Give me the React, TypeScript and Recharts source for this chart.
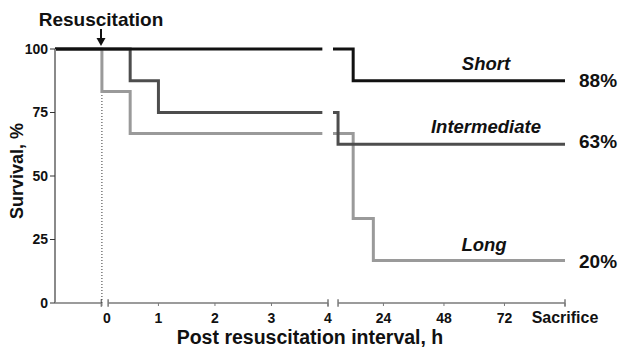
import React from 'react'
import { LineChart, Line, XAxis, YAxis, ReferenceLine } from 'recharts'

// hours after resuscitation / survival % -- early panel (-1..4 h)
const shortEarlyHours = [-0.83, 3.9]
const shortEarlySurvival = [100, 100]
const intermediateEarlyHours = [-0.83, 0.5, 1, 3.9]
const intermediateEarlySurvival = [100, 87.5, 75, 75]
const longEarlyHours = [-0.83, 0, 0.5, 3.9]
const longEarlySurvival = [100, 83.3, 66.7, 66.7]

// late panel (4 h .. sacrifice at 96 h)
const shortLateHours = [4, 12, 96]
const shortLateSurvival = [100, 87.5, 87.5]
const intermediateLateHours = [4, 6, 96]
const intermediateLateSurvival = [75, 62.5, 62.5]
const longLateHours = [4, 12, 20, 96]
const longLateSurvival = [66.7, 33.3, 16.7, 16.7]

const survivalTicks = [0, 25, 50, 75, 100]
const earlyTicks = [0, 1, 2, 3, 4]
const lateTicks = [24, 48, 72, 96]
const seriesNames = ['Short', 'Intermediate', 'Long']
const finalSurvival = ['88%', '63%', '20%']

const FONT = '"Liberation Sans", Arial, Helvetica, sans-serif'
const COLORS = ['#111111', '#4d4d4d', '#9a9a9a']
const AXIS = '#7a7a7a'

const toPoints = (hours: number[], surv: number[]) => hours.map((t, i) => ({ t, s: surv[i] }))

const early = [
  toPoints(shortEarlyHours, shortEarlySurvival),
  toPoints(intermediateEarlyHours, intermediateEarlySurvival),
  toPoints(longEarlyHours, longEarlySurvival),
]
const late = [
  toPoints(shortLateHours, shortLateSurvival),
  toPoints(intermediateLateHours, intermediateLateSurvival),
  toPoints(longLateHours, longLateSurvival),
]

function HourTick(props: any) {
  const { x, y, payload } = props
  const v = payload.value
  const isEnd = v === 96
  return (
    <text
      x={x + (v === 0 ? 5 : 0)}
      y={y + 15}
      textAnchor="middle"
      fontFamily={FONT}
      fontWeight="bold"
      fontSize={isEnd ? 16 : 14}
      fill="#111"
    >
      {isEnd ? 'Sacrifice' : v}
    </text>
  )
}

// draw lines back-to-front so Short sits on top
const order = [2, 1, 0]

export default function App() {
  return (
    <div style={{ position: 'absolute', left: 0, top: 0, width: 624, height: 350, background: '#fff', fontFamily: FONT }}>
      <div style={{ position: 'absolute', left: 0, top: 0 }}>
        <LineChart width={340} height={350} margin={{ top: 49, right: 12, bottom: 17, left: 0 }}>
          <XAxis
            type="number"
            dataKey="t"
            domain={[-0.83, 4]}
            ticks={earlyTicks}
            allowDataOverflow
            axisLine={false}
            tickLine={{ stroke: AXIS }}
            tickSize={3}
            height={30}
            tick={<HourTick />}
          />
          <YAxis
            type="number"
            domain={[0, 100]}
            ticks={survivalTicks}
            width={55}
            axisLine={{ stroke: '#8a8a8a', strokeWidth: 2 }}
            tickLine={{ stroke: '#333' }}
            tickSize={5}
            tick={{ fontSize: 14, fontWeight: 'bold', fill: '#111', fontFamily: FONT }}
          />
          <ReferenceLine segment={[{ x: -0.83, y: 0 }, { x: -0.01, y: 0 }]} stroke={AXIS} strokeWidth={1.5} ifOverflow="visible" />
          <ReferenceLine segment={[{ x: -0.01, y: -1.5 }, { x: -0.01, y: 1.5 }]} stroke={AXIS} strokeWidth={1.5} ifOverflow="visible" />
          <ReferenceLine segment={[{ x: 0.11, y: 0 }, { x: 4, y: 0 }]} stroke={AXIS} strokeWidth={1.5} ifOverflow="visible" />
          <ReferenceLine segment={[{ x: 0.11, y: -1.5 }, { x: 0.11, y: 1.5 }]} stroke={AXIS} strokeWidth={1.5} ifOverflow="visible" />
          <ReferenceLine segment={[{ x: 4, y: -1.5 }, { x: 4, y: 1.5 }]} stroke={AXIS} strokeWidth={1.5} ifOverflow="visible" />
          <ReferenceLine x={0} stroke="#333" strokeDasharray="1 2" />
          {order.map((i) => (
            <Line
              key={seriesNames[i]}
              data={early[i]}
              dataKey="s"
              type="stepAfter"
              stroke={COLORS[i]}
              strokeWidth={3}
              dot={false}
              isAnimationActive={false}
            />
          ))}
        </LineChart>
      </div>

      <div style={{ position: 'absolute', left: 322, top: 0 }}>
        <LineChart width={302} height={350} margin={{ top: 49, right: 59, bottom: 17, left: 11 }}>
          <XAxis
            type="number"
            dataKey="t"
            domain={[4, 96]}
            ticks={lateTicks}
            allowDataOverflow
            axisLine={false}
            tickLine={{ stroke: AXIS }}
            tickSize={3}
            height={30}
            tick={<HourTick />}
          />
          <YAxis type="number" domain={[0, 100]} hide />
          <ReferenceLine segment={[{ x: 6, y: 0 }, { x: 96, y: 0 }]} stroke={AXIS} strokeWidth={1.5} ifOverflow="visible" />
          <ReferenceLine segment={[{ x: 6, y: -1.5 }, { x: 6, y: 1.5 }]} stroke={AXIS} strokeWidth={1.5} ifOverflow="visible" />
          <ReferenceLine segment={[{ x: 96, y: -1.5 }, { x: 96, y: 1.5 }]} stroke={AXIS} strokeWidth={1.5} ifOverflow="visible" />
          {order.map((i) => (
            <Line
              key={seriesNames[i]}
              data={late[i]}
              dataKey="s"
              type="stepAfter"
              stroke={COLORS[i]}
              strokeWidth={3}
              dot={false}
              isAnimationActive={false}
            />
          ))}
        </LineChart>
      </div>

      <svg width={624} height={350} style={{ position: 'absolute', left: 0, top: 0, pointerEvents: 'none' }}>
        <g fontFamily={FONT} fontWeight="bold" fill="#111">
          <text x={101} y={26} textAnchor="middle" fontSize={19}>Resuscitation</text>
          <line x1={101} y1={29} x2={101} y2={40} stroke="#111" strokeWidth={2} />
          <polygon points="96.5,38 105.5,38 101,46" fill="#111" />
          <text transform="translate(23,171) rotate(-90)" textAnchor="middle" fontSize={18}>Survival, %</text>
          <text x={310} y={344} textAnchor="middle" fontSize={19.5}>Post resuscitation interval, h</text>
          <text x={486} y={70} textAnchor="middle" fontSize={18.5} fontStyle="italic">{seriesNames[0]}</text>
          <text x={486} y={133} textAnchor="middle" fontSize={18.5} fontStyle="italic">{seriesNames[1]}</text>
          <text x={484} y={251} textAnchor="middle" fontSize={18.5} fontStyle="italic">{seriesNames[2]}</text>
          <text x={579} y={87} fontSize={19}>{finalSurvival[0]}</text>
          <text x={579} y={148} fontSize={19}>{finalSurvival[1]}</text>
          <text x={579} y={268} fontSize={19}>{finalSurvival[2]}</text>
        </g>
      </svg>
    </div>
  )
}
